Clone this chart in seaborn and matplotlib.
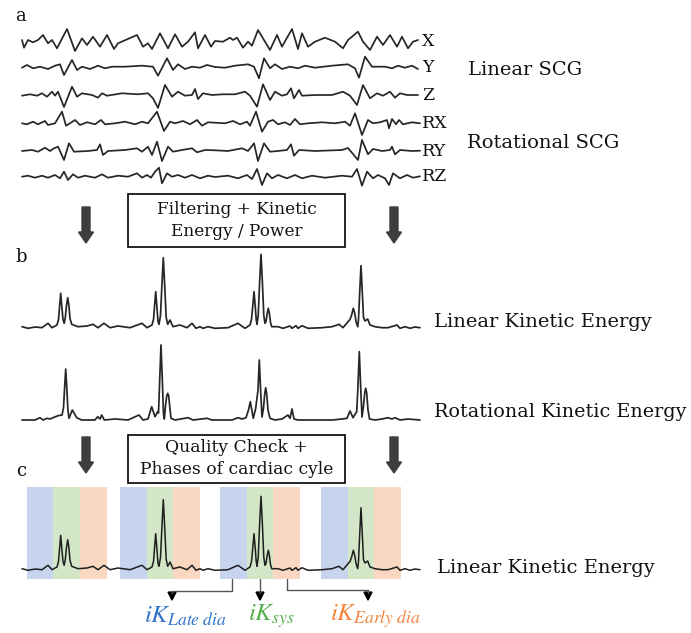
import matplotlib
matplotlib.use("Agg")
import matplotlib.pyplot as plt
import seaborn as sns
import numpy as np
from matplotlib.patches import Rectangle, FancyArrow

sns.set_theme(style="white")
plt.rcParams['font.family'] = ['DejaVu Serif']
plt.rcParams['mathtext.fontset'] = 'stix'

# ---------------- data (time sample, amplitude) ----------------
x_t = [22,24,28,33,38,43,48,52,57,67,75,82,87,93,100,107,114,118,137,143,148,152,160,168,175,182,188,195,198,205,211,215,223,230,233,237,243,248,252,258,265,270,277,282,292,298,302,308,315,325,335,343,348,358,363,370,377,383,390,397,402,408,413,418]
x_a = [2,-5.7,2,-0.3,2,7,-1.3,2,-6.3,13,-9,3.7,-3,5.3,-4.7,7,-7,-1.3,7,-4.7,-1.3,-7,8.7,-6.3,7.7,-4.7,0.3,9.7,-6.3,7,-4.7,1,0.3,4.3,2,4.3,-5.7,0.3,-3.7,12,0.3,-8,7,-4.7,13,-7,8.7,-4.7,0.3,4.3,0.3,-6.3,2,10.3,0.3,-8,5.3,-3,7,-4.7,5.3,-6.3,0.3,2]

y_t = [22,27,33,40,48,55,60,64,72,77,82,90,98,105,112,125,142,153,158,167,173,178,185,192,200,207,215,225,235,248,254,259,264,270,275,282,290,298,305,315,332,348,355,359,365,372,385,392,398,405,412,418]
y_a = [-0.7,2,-1.3,0.3,-2,1.3,2.7,-8,7,-3,0.3,-2,1.3,-1.3,0.3,0.3,1.3,0.3,-8.7,8.7,-3,2.7,-2,0.3,-0.7,2,0,-0.7,1.3,2.7,0.3,-11.3,8.7,-1.3,2.7,-2,0.3,-1.3,1.3,-0.7,1.3,2.7,-1.3,-10.7,10.3,0.3,0.3,-1.3,1.3,-0.7,1.3,-2]

z_t = [22,30,37,42,47,52,55,58,64,72,77,82,92,98,102,107,122,138,148,153,158,165,172,178,185,192,195,198,203,212,223,235,245,250,257,263,270,275,282,287,291,294,299,302,315,332,343,350,357,363,370,377,383,390,395,400,407,418]
z_a = [-0.7,0.7,-0.7,1.7,-1.7,3.3,-0.7,3.3,-12,8.3,-1.7,1.7,0,-2.7,1.7,-0.7,1.7,0.7,1.7,-3.3,-13,10,-1.7,3.3,-0.7,0,6,-4,1.7,0,0.7,0.7,3.3,-0.7,-11.7,10.7,-5,3.3,-0.7,0.7,6.7,-3.3,5,-0.7,0,0,3.3,-0.7,-10,10,-3.3,1.7,-0.7,3.3,-2.7,1.7,0,0]

rx_t = [22,27,33,38,45,48,55,62,66,70,75,80,87,95,101,105,115,125,135,142,148,157,164,170,175,183,190,197,202,208,215,225,233,240,247,250,256,262,268,273,278,285,290,295,300,308,322,335,345,350,355,362,368,373,380,387,389,392,396,399,403,412,420]
rx_a = [-0.3,-1.3,1.3,-1.3,2,-2,-0.3,11.3,-2.7,-0.3,3,-2,0.7,-1.3,3,-1.3,-0.3,1.3,-1.3,1.3,-0.3,11.3,-8,1.3,-0.3,2,-1.3,3,-2.7,0.7,0.3,-0.3,2,-1.3,1.3,-2.7,11.3,-8.7,1.3,3,-1.3,0.7,-2,4,-1.3,-0.3,0.7,-0.3,1.3,-2.7,9.7,-12,3,-0.3,0.7,3,-5.3,4,-1.3,3,-1.3,0.7,-0.3]

ry_t = [22,32,38,45,50,54,58,64,69,74,88,97,100,103,108,125,137,142,148,152,157,162,168,173,182,192,197,205,215,228,242,248,254,258,264,270,278,287,291,294,299,315,342,348,353,358,362,368,373,382,390,392,395,400,412,420]
ry_a = [0,1,-0.7,3.3,0,2.7,4.3,-9,7.7,-0.7,0,1,6.7,-4,0,1,2.7,-0.7,4.3,-4,9.3,-10,4.3,-0.7,1,2.7,-1.3,1,0.7,0,2.7,0,7.7,-10,7.7,-0.7,0,1,6.7,-4.7,1,0,1,3,-3,-9,11,-3.3,2,0,1,4.3,-3.3,1,0,0.3]

rz_t = [22,28,35,42,48,55,60,64,68,73,78,85,95,102,108,118,128,137,142,147,151,155,159,162,167,172,178,185,192,200,208,215,228,238,247,252,257,262,267,272,278,287,295,302,312,325,342,352,357,362,367,373,378,385,389,393,400,407,413,420]
rz_a = [-0.2,0.8,-1.2,0.8,-1.2,1.5,-1.8,4.8,-3.5,2.2,-1.2,0.8,-1.2,2.2,-1.2,0.8,-0.2,3.2,-1.2,1.5,-1.2,4.8,8.8,-6.8,3.2,-0.2,1.5,-1.2,1.5,-1.8,0.8,-0.5,0.8,-1.8,1.5,-2.5,7.5,-8.5,3.2,-1.8,1.5,-1.8,1.5,-1.8,0.8,-1.2,0.8,-0.2,7.5,-9.2,4.8,-1.8,1.5,-1.8,-8.5,3.2,-1.8,1.5,-1.2,0.2]

lke_t = [22,28,35,42,48,52,57,58.5,59.5,60.7,61.9,63,64.2,65.3,66.5,67.7,68.9,70,71.7,78,87,93,98,104,110,118,130,142,147,152,153.5,154.6,155.7,156.8,158,159,160.5,161.8,163.3,164.8,166.2,167.7,170,173,180,187,192,196,200,203,208,215,228,238,245,250,251.5,252.8,254,255.2,256.2,257,258.2,259.6,261,262.4,263.8,265,266,267.2,268.3,269.4,270.5,271.7,278,283,290,292,296,298,302,308,322,332,339,343,348,350,351.5,353.3,354.8,356,357.7,358.5,359.7,361,362.3,363.5,365,367.7,370,375,382,388,397,400,405,410,415,420]
lke_a = [0.8,-0.8,0.5,-0.2,4.2,-0.2,2.5,8,20,34.2,20,8,4.2,10,22,29.8,22,9,3.2,0.8,1.5,3.2,-0.2,4.2,-0.2,1.5,-0.2,4.2,-0.2,2.5,8,22,35.8,22,6,3.2,12,40,69.8,40,10,3.2,7.5,0.8,2.5,-0.2,4.2,-0.8,0.8,-0.8,0.8,-0.8,-0.2,4.2,-0.8,2.5,8,22,35.8,22,8,3.2,12,45,73.2,45,12,4.2,6,14,19.2,14,5,0.8,0.8,-0.8,1.5,-0.8,1.8,-0.8,1.8,-0.8,-0.2,0.8,3.2,-0.2,5.8,8,12,19.2,14,6,0.8,8,35,61.8,35,10,6.5,8.5,2.5,0.8,-0.2,-0.2,2.5,-0.8,0.8,-0.8,0.5,-0.2]

rke_t = [22,35,40,43,47,50,53,58,62,63.5,64.6,65.7,66.8,67.9,69,72.3,76.7,81.7,95,97.7,100,101.7,104.3,115,128,139,143,148,151.7,155,157.7,158.5,159.7,161,162.3,163.5,164.3,165.5,166.7,167.7,168.7,169.9,171,175,188,193,207,212,232,238,242,246,248.5,250.3,251.8,253.3,255.7,258,259.3,260.6,262,263.5,264.7,265.7,266.7,268,270,275,282,288,290,292,294,298,332,342,347,350,353,356.7,357.8,359.3,360.8,362,363.5,364.7,365.7,366.7,368,369.5,375,382,388,392,395,400,408,420]
rke_a = [0,0,2.3,0,1.7,1,2.3,4.3,5,12,32,51,32,10,1.7,10,2.3,0,0,3.3,1,5,0,1,0,5,0,1,13.3,3.3,8.3,7,40,75,40,6,1,14,24,26.7,24,12,1.7,0,2.3,0,1.7,0,0,2.3,1,2.3,10,18.3,10,1.7,11.7,30,60,30,3,12,26,32.3,26,10,1.7,0,1,5,1.7,11,1,0,0,1,1.7,9,2.3,8.3,30,68.3,30,3,14,27,31.7,27,10,1,0,1,2.3,1,2.3,0,1,0]

scg_labels = ["X", "Y", "Z", "RX", "RY", "RZ"]
phase_names = ["Late dia", "sys", "Early dia"]
phase_colors = ["#4472c4", "#70ad47", "#ed7d31"]
label_colors = ["#2f73c9", "#55b04f", "#f5843a"]
cycle_starts = [26.7, 120, 220, 321]   # start of each cardiac cycle window (samples)
phase_len = 26.7

# ---------------- figure ----------------
fig = plt.figure(figsize=(6.91, 6.33), dpi=100)
ax = fig.add_axes([0, 0, 1, 1])
ax.set_xlim(0, 691)
ax.set_ylim(633, 0)
ax.axis("off")

LC = "#262626"

def trace(t, a, base, lw=1.25, color=LC):
    sns.lineplot(x=np.array(t), y=base - np.array(a), ax=ax, color=color,
                 linewidth=lw, estimator=None, sort=False,
                 solid_joinstyle="round", solid_capstyle="round")

# panel a
bases_a = [42, 67, 95, 123, 151, 176.5]
series_a = [(x_t, x_a), (y_t, y_a), (z_t, z_a), (rx_t, rx_a), (ry_t, ry_a), (rz_t, rz_a)]
for (t, a), b, lab in zip(series_a, bases_a, scg_labels):
    trace(t, a, b)
    ax.text(422, b, lab, fontsize=12.5, va="center", ha="left", color="#111")
ax.text(468, 70, "Linear SCG", fontsize=14, va="center", ha="left", color="#111")
ax.text(467, 143, "Rotational SCG", fontsize=14, va="center", ha="left", color="#111")
ax.text(21, 16, "a", fontsize=13, va="center", ha="center", color="#111")

# box 1
ax.add_patch(Rectangle((128, 194), 217, 53, fill=True, facecolor="white",
                       edgecolor="black", lw=1.2))
ax.text(236.5, 209, "Filtering + Kinetic", fontsize=12.2, ha="center", va="center", color="#111")
ax.text(236.5, 232, "Energy / Power", fontsize=12.2, ha="center", va="center", color="#111")
for xa in (86, 394):
    ax.add_patch(FancyArrow(xa, 207, 0, 25, width=8, head_width=15, head_length=11,
                            length_includes_head=False, color="#3d3d3d"))

# panel b
ax.text(21, 257, "b", fontsize=13, va="center", ha="center", color="#111")
trace(lke_t, lke_a, 327.5)
trace(rke_t, rke_a, 420)
ax.text(434, 322, "Linear Kinetic Energy", fontsize=14, va="center", ha="left", color="#111")
ax.text(434, 412, "Rotational Kinetic Energy", fontsize=13.8, va="center", ha="left", color="#111")

# box 2
ax.add_patch(Rectangle((128, 435), 217, 48, fill=True, facecolor="white",
                       edgecolor="black", lw=1.2))
ax.text(236.5, 447, "Quality Check +", fontsize=12.3, ha="center", va="center", color="#111")
ax.text(236.5, 470, "Phases of cardiac cyle", fontsize=12.3, ha="center", va="center", color="#111")
for xa in (86, 394):
    ax.add_patch(FancyArrow(xa, 437, 0, 25, width=8, head_width=15, head_length=11,
                            length_includes_head=False, color="#3d3d3d"))

# panel c
ax.text(21, 471, "c", fontsize=13, va="center", ha="center", color="#111")
trace(lke_t, lke_a, 569.5, lw=1.1, color="#1e1e1e")
for s in cycle_starts:
    for k, col in enumerate(phase_colors):
        ax.add_patch(Rectangle((s + k * phase_len, 487), phase_len, 92,
                               facecolor=col, alpha=0.3, edgecolor="none"))
ax.text(437, 568, "Linear Kinetic Energy", fontsize=14, va="center", ha="left", color="#111")

# connectors
gc = "#555555"
ax.plot([232, 232, 172, 172], [579, 591, 591, 593], color=gc, lw=1.0)
ax.plot([287, 287, 368, 368], [579, 589.5, 589.5, 593], color=gc, lw=1.0)
ax.plot([260, 260], [579, 593], color=gc, lw=1.0)
for xa in (172, 260, 368):
    ax.add_patch(FancyArrow(xa, 592, 0, 0.1, width=0.1, head_width=8, head_length=8,
                            length_includes_head=False, color="black"))

label_x = [185, 271, 375]
for name, col, lx in zip(phase_names, label_colors, label_x):
    txt = r"$iK_{" + name.replace(" ", r"\ ") + r"}$"
    ax.text(lx, 616, txt, fontsize=18, ha="center", va="center", color=col)

fig.savefig("out.png", dpi=100)
